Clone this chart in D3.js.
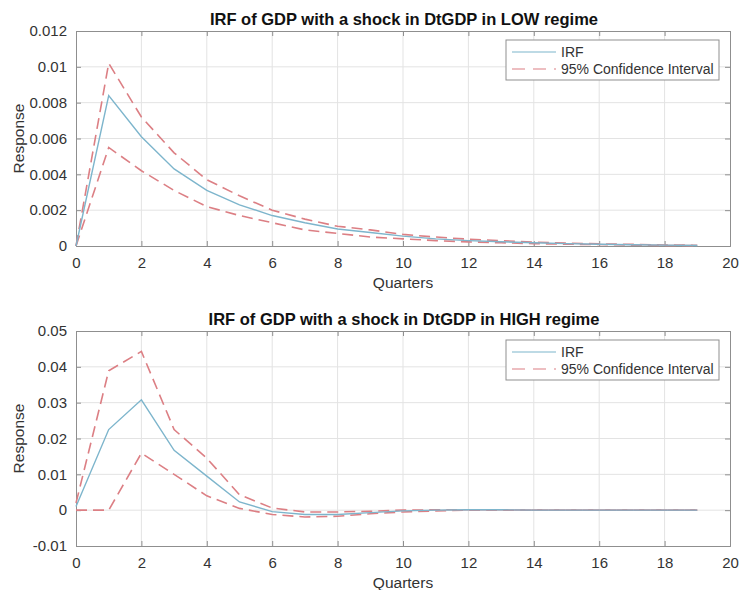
<!DOCTYPE html>
<html>
<head>
	<meta charset="utf-8">
	<title>IRF of GDP</title>
	<script src="https://cdn.jsdelivr.net/npm/d3@7"></script>
	<style>
		body { margin: 0; background: #fff; }
		text { font-family: "Liberation Sans", Arial, sans-serif; }
	</style>
</head>
<body>

<script type="text/javascript">
	// horizon in quarters
	var quarters = d3.range(0, 20);

	// LOW regime
	var lowIrf   = [0, 0.0084, 0.0061, 0.0043, 0.0031, 0.0023, 0.0017, 0.0013, 0.00095, 0.00075,
	                0.00055, 0.0004, 0.0003, 0.00024, 0.00018, 0.00013, 0.0001, 0.00007, 0.00005, 0.00003];
	var lowUpper = [0, 0.0102, 0.0072, 0.0052, 0.0037, 0.0028, 0.0020, 0.0015, 0.0011, 0.0009,
	                0.00065, 0.0005, 0.00038, 0.0003, 0.00022, 0.00016, 0.00012, 0.00009, 0.00006, 0.00004];
	var lowLower = [0, 0.0055, 0.0042, 0.0031, 0.0022, 0.0017, 0.0013, 0.0009, 0.0007, 0.0005,
	                0.0004, 0.0003, 0.00023, 0.00018, 0.00013, 0.0001, 0.00008, 0.00005, 0.00003, 0.00002];

	// HIGH regime
	var highIrf   = [0.001, 0.0225, 0.0308, 0.0167, 0.0095, 0.0023, -0.0004, -0.0012, -0.0012, -0.0007,
	                 -0.0002, 0, 0.0001, 0.0001, 0, 0, 0, 0, 0, 0];
	var highUpper = [0.002, 0.0389, 0.0443, 0.0225, 0.0145, 0.0043, 0.0006, -0.0005, -0.0005, -0.0003,
	                 0, 0.0001, 0.0001, 0.0001, 0, 0, 0, 0, 0, 0];
	var highLower = [0, 0, 0.0159, 0.0100, 0.0040, 0.0005, -0.0012, -0.0019, -0.0017, -0.0010,
	                 -0.0005, -0.0002, 0, 0, 0, 0, 0, 0, 0, 0];

	var xTicks = d3.range(0, 21, 2);
	var lowTicks = [0, 0.002, 0.004, 0.006, 0.008, 0.01, 0.012];
	var highTicks = [-0.01, 0, 0.01, 0.02, 0.03, 0.04, 0.05];

	var legendLabels = ["IRF", "95% Confidence Interval"];

	var svgWidth = 740, svgHeight = 590;
	var irfColor = "#7db5cc", ciColor = "#dc7f84";

	var svg = d3.select("body")
		.append("svg")
		.attr("width", svgWidth)
		.attr("height", svgHeight);

	drawPanel({
		top: 31, height: 215,
		title: "IRF of GDP with a shock in DtGDP in LOW regime",
		domain: [0, 0.012], ticks: lowTicks,
		irf: lowIrf, upper: lowUpper, lower: lowLower
	});

	drawPanel({
		top: 331, height: 215,
		title: "IRF of GDP with a shock in DtGDP in HIGH regime",
		domain: [-0.01, 0.05], ticks: highTicks,
		irf: highIrf, upper: highUpper, lower: highLower
	});

	function drawPanel(p) {
		var left = 76, width = 654;
		var g = svg.append("g").attr("transform", "translate(" + left + "," + p.top + ")");

		var x = d3.scaleLinear().domain([0, 20]).range([0, width]);
		var y = d3.scaleLinear().domain(p.domain).range([p.height, 0]);

		// grid
		g.append("g").selectAll("line").data(xTicks.slice(1, -1)).enter().append("line")
			.attr("x1", function(d) { return x(d); }).attr("x2", function(d) { return x(d); })
			.attr("y1", 0).attr("y2", p.height)
			.attr("stroke", "#e3e3e3");
		g.append("g").selectAll("line").data(p.ticks.slice(1, -1)).enter().append("line")
			.attr("x1", 0).attr("x2", width)
			.attr("y1", function(d) { return y(d); }).attr("y2", function(d) { return y(d); })
			.attr("stroke", "#e3e3e3");

		// axes, ticks pointing inward; plain hyphen for negatives
		var fmt = function(d) { return String(+d.toFixed(4)); };
		var bottom = g.append("g").attr("transform", "translate(0," + p.height + ")")
			.call(d3.axisBottom(x).tickValues(xTicks).tickSize(-5).tickPadding(11).tickFormat(fmt));
		var topAx = g.append("g")
			.call(d3.axisTop(x).tickValues(xTicks).tickSize(-5).tickFormat(""));
		var leftAx = g.append("g")
			.call(d3.axisLeft(y).tickValues(p.ticks).tickSize(-5).tickPadding(9).tickFormat(fmt));
		var rightAx = g.append("g").attr("transform", "translate(" + width + ",0)")
			.call(d3.axisRight(y).tickValues(p.ticks).tickSize(-5).tickFormat(""));

		[bottom, topAx, leftAx, rightAx].forEach(function(a) {
			a.select(".domain").attr("stroke", "#8f8f8f");
			a.selectAll(".tick line").attr("stroke", "#8f8f8f");
			a.selectAll(".tick text").attr("fill", "#333").style("font-size", "15px")
				.style("font-family", "'Liberation Sans', Arial, sans-serif");
		});

		var line = d3.line()
			.x(function(d, i) { return x(quarters[i]); })
			.y(function(d) { return y(d); });

		g.append("path").datum(p.upper).attr("d", line)
			.attr("fill", "none").attr("stroke", ciColor).attr("stroke-width", 1.6)
			.attr("stroke-dasharray", "11,6");
		g.append("path").datum(p.lower).attr("d", line)
			.attr("fill", "none").attr("stroke", ciColor).attr("stroke-width", 1.6)
			.attr("stroke-dasharray", "11,6");
		g.append("path").datum(p.irf).attr("d", line)
			.attr("fill", "none").attr("stroke", irfColor).attr("stroke-width", 1.4);

		// title and labels
		g.append("text")
			.attr("x", width / 2 + 1).attr("y", -6)
			.attr("text-anchor", "middle")
			.style("font-size", "16.5px").style("font-weight", "bold").attr("fill", "#111")
			.text(p.title);

		g.append("text")
			.attr("x", width / 2).attr("y", p.height + 42)
			.attr("text-anchor", "middle")
			.style("font-size", "15.5px").attr("fill", "#333")
			.text("Quarters");

		g.append("text")
			.attr("transform", "translate(" + (-52) + "," + (p.height / 2) + ") rotate(-90)")
			.attr("text-anchor", "middle")
			.style("font-size", "15.5px").attr("fill", "#333")
			.text("Response");

		// legend
		var lg = g.append("g").attr("transform", "translate(" + (506 - left) + ",9)");
		lg.append("rect").attr("width", 213).attr("height", 40)
			.attr("fill", "#fff").attr("stroke", "#8f8f8f");
		lg.selectAll(".item").data(legendLabels).enter().append("g")
			.attr("class", "item")
			.attr("transform", function(d, i) { return "translate(0," + (12 + i * 17) + ")"; })
			.each(function(d, i) {
				var item = d3.select(this);
				item.append("line").attr("x1", 6).attr("x2", 50)
					.attr("stroke", i === 0 ? irfColor : ciColor).attr("stroke-width", 1.1)
					.attr("stroke-dasharray", i === 0 ? null : "13,8");
				item.append("text").attr("x", 55).attr("dy", "0.35em")
					.style("font-size", "14px").attr("fill", "#333")
					.text(d);
			});
	}
</script>
</body>
</html>
